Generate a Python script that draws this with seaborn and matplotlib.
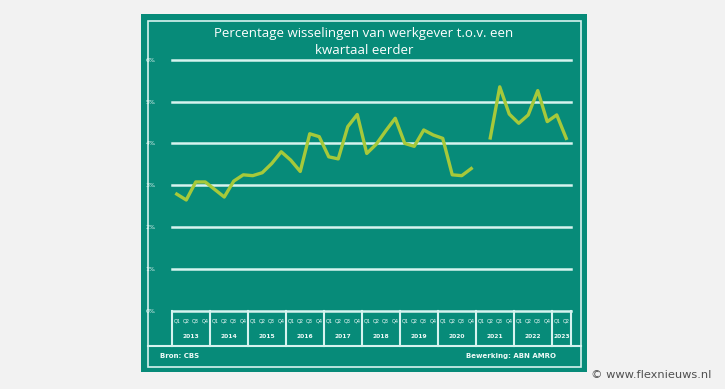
import numpy as np
import pandas as pd
import matplotlib
matplotlib.use("Agg")
import matplotlib.pyplot as plt
from matplotlib.patches import Rectangle
from matplotlib.lines import Line2D
import seaborn as sns

years = ["2013", "2014", "2015", "2016", "2017", "2018", "2019", "2020", "2021", "2022", "2023"]
quarters = ["Q1", "Q2", "Q3", "Q4"]
values = [
    2.79, 2.65, 3.08, 3.08,
    2.90, 2.72, 3.10, 3.25,
    3.23, 3.30, 3.52, 3.80,
    3.60, 3.33, 4.23, 4.16,
    3.68, 3.63, 4.40, 4.69,
    3.76, 3.98, 4.30, 4.60,
    4.00, 3.93, 4.32, 4.20,
    4.12, 3.25, 3.23, 3.40,
    np.nan, 4.13, 5.35, 4.70,
    4.48, 4.68, 5.26, 4.52,
    4.68, 4.12,
]
ytick_vals = [0, 1, 2, 3, 4, 5, 6]
ytick_labels = ["0%", "1%", "2%", "3%", "4%", "5%", "6%"]
title = "Percentage wisselingen van werkgever t.o.v. een\nkwartaal eerder"
source = "Bron: CBS"
credit = "Bewerking: ABN AMRO"
watermark = "\u00a9 www.flexnieuws.nl"

n = len(values)
idx = np.arange(n)
seg = np.zeros(n, dtype=int)
first_nan = int(np.where(np.isnan(values))[0][0])
seg[first_nan:] = 1
df = pd.DataFrame({"x": idx, "y": values, "seg": seg}).dropna()

W, H = 725, 389
fig = plt.figure(figsize=(W / 100, H / 100), dpi=100)
fig.patch.set_facecolor("#f2f2f2")

TEAL = "#078b79"
GRID = "#d6f3ef"
LINE = "#a6c93a"
WHITE = "#eefaf8"

def fx(px):
    return px / W

def fy(py):
    return 1 - py / H

# teal panel
fig.patches.append(Rectangle((fx(141), fy(372)), fx(587) - fx(141), fy(14) - fy(372),
                             transform=fig.transFigure, facecolor=TEAL, edgecolor="none", zorder=0))
# inner border
fig.patches.append(Rectangle((fx(148), fy(367)), fx(581) - fx(148), fy(21) - fy(367),
                             transform=fig.transFigure, facecolor="none", edgecolor=GRID, lw=1.2, zorder=1))
fig.lines.append(Line2D([fx(148), fx(581)], [fy(346), fy(346)], transform=fig.transFigure,
                        color=GRID, lw=1.5, zorder=1))

ymax = 6.1
px_per = 41.9
top_px = 311 - ymax * px_per
ax = fig.add_axes([fx(172), fy(311), fx(571) - fx(172), (311 - top_px) / H])
ax.set_zorder(5)
ax.set_facecolor("none")
ax.set_xlim(-0.5, n - 0.5)
ax.set_ylim(0, ymax)

for v in ytick_vals:
    ax.axhline(v, color=GRID, lw=1.8, zorder=1, clip_on=False)

sns.lineplot(data=df, x="x", y="y", units="seg", estimator=None, color=LINE,
             lw=2.4, ax=ax, zorder=3)

ax.set_yticks(ytick_vals)
ax.set_yticklabels(ytick_labels, fontsize=4.5, color=WHITE)
ax.tick_params(axis="y", length=0, pad=12)
ax.set_xticks([])
ax.set_xlabel("")
ax.set_ylabel("")
for s in ax.spines.values():
    s.set_visible(False)

# category table below the axis
trans = ax.get_xaxis_transform()
h_ax = (311 - top_px)
y_bot = -(346 - 311) / h_ax
y_q = -(321 - 311) / h_ax
y_y = -(336 - 311) / h_ax
bounds = list(np.arange(-0.5, n, 4)) + [n - 0.5]
for b in bounds:
    ax.plot([b, b], [0, y_bot], color=GRID, lw=1.5, transform=trans, clip_on=False)
for i in range(n):
    ax.text(i, y_q, quarters[i % 4], transform=trans, ha="center", va="center",
            fontsize=3.6, color=WHITE)
for k, yr in enumerate(years):
    start = 4 * k - 0.5
    end = min(4 * k + 3.5, n - 0.5)
    ax.text((start + end) / 2, y_y, yr, transform=trans, ha="center", va="center",
            fontsize=4.3, color=WHITE, fontweight="bold")

fig.text(fx(364), fy(42), title, ha="center", va="center", fontsize=9.5,
         color="white", family="Open Sans", linespacing=1.35)
fig.text(fx(160), fy(356), source, ha="left", va="center", fontsize=5, color=WHITE, fontweight="bold")
fig.text(fx(556), fy(356), credit, ha="right", va="center", fontsize=5, color=WHITE, fontweight="bold")
fig.text(fx(591), fy(375), watermark, ha="left", va="center", fontsize=8.2, color="#505050")

fig.savefig("out.png", dpi=100, facecolor=fig.get_facecolor())
